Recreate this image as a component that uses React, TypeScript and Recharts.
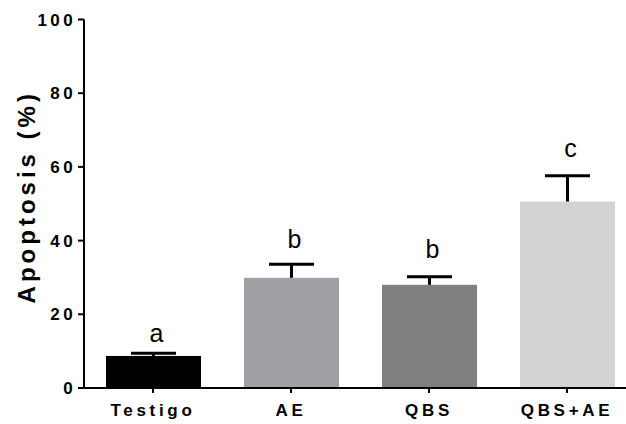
import React from 'react';
import { BarChart, Bar, XAxis, YAxis, Cell } from 'recharts';

const categories = ['Testigo', 'AE', 'QBS', 'QBS+AE'];
const means = [8.7, 29.9, 28.0, 50.6];
const errors = [0.7, 3.7, 2.2, 7.0];
const letters = ['a', 'b', 'b', 'c'];
const letterLevels = [12.5, 37.9, 35.2, 62.7];
const colors = ['#000000', '#a0a0a4', '#808080', '#d3d3d3'];
const yTicks = [0, 20, 40, 60, 80, 100];

const data = categories.map((name, i) => ({
  name,
  mean: means[i],
  err: errors[i],
  letter: letters[i],
  letterLevel: letterLevels[i],
}));

const FONT = '"Liberation Sans", Arial, Helvetica, sans-serif';

const BarWithError = (props: any) => {
  const { x, y, width, height, fill, payload } = props;
  const pxPerUnit = height / payload.mean;
  const base = y + height;
  const cx = x + width / 2;
  const capY = base - (payload.mean + payload.err) * pxPerUnit;
  const letterY = base - payload.letterLevel * pxPerUnit;
  return (
    <g>
      <rect x={x} y={y} width={width} height={height} fill={fill} />
      <line x1={cx} y1={y} x2={cx} y2={capY} stroke="#000" strokeWidth={3} />
      <line x1={cx - 22.5} y1={capY} x2={cx + 22.5} y2={capY} stroke="#000" strokeWidth={3} />
      <text
        x={cx + 3}
        y={letterY}
        textAnchor="middle"
        fontFamily={FONT}
        fontSize={25}
        fill="#000"
      >
        {payload.letter}
      </text>
    </g>
  );
};

const YLabel = (props: any) => {
  const vb = props.viewBox || {};
  const cx = (vb.x || 0) + 35;
  const cy = (vb.y || 0) + (vb.height || 0) / 2 - 7;
  return (
    <text
      x={cx}
      y={cy}
      transform={`rotate(-90, ${cx}, ${cy})`}
      textAnchor="middle"
      fontFamily={FONT}
      fontWeight="bold"
      fontSize={24}
      letterSpacing={4}
      fill="#000"
    >
      Apoptosis (%)
    </text>
  );
};

export default function App() {
  return (
    <div
      style={{
        position: 'absolute',
        left: 0,
        top: 0,
        width: 626,
        height: 424,
        overflow: 'hidden',
        background: '#fff',
      }}
    >
      <BarChart
        width={636}
        height={424}
        data={data}
        margin={{ top: 19.5, right: 0, left: 0, bottom: 0 }}
        barSize={95}
      >
        <XAxis
          dataKey="name"
          height={36}
          axisLine={{ stroke: '#000', strokeWidth: 2 }}
          tickLine={{ stroke: '#000', strokeWidth: 2 }}
          tickSize={5}
          tickMargin={11}
          tick={{
            fill: '#000',
            fontFamily: FONT,
            fontWeight: 'bold',
            fontSize: 17,
            letterSpacing: 3.7,
          }}
          interval={0}
        />
        <YAxis
          width={84}
          domain={[0, 100]}
          ticks={yTicks}
          axisLine={{ stroke: '#000', strokeWidth: 2 }}
          tickLine={{ stroke: '#000', strokeWidth: 2 }}
          tickSize={6}
          tickMargin={2}
          tick={{
            fill: '#000',
            fontFamily: FONT,
            fontWeight: 'bold',
            fontSize: 17,
            letterSpacing: 3.4,
          }}
          label={<YLabel />}
        />
        <Bar dataKey="mean" isAnimationActive={false} shape={<BarWithError />}>
          {data.map((d, i) => (
            <Cell key={d.name} fill={colors[i]} />
          ))}
        </Bar>
      </BarChart>
    </div>
  );
}
